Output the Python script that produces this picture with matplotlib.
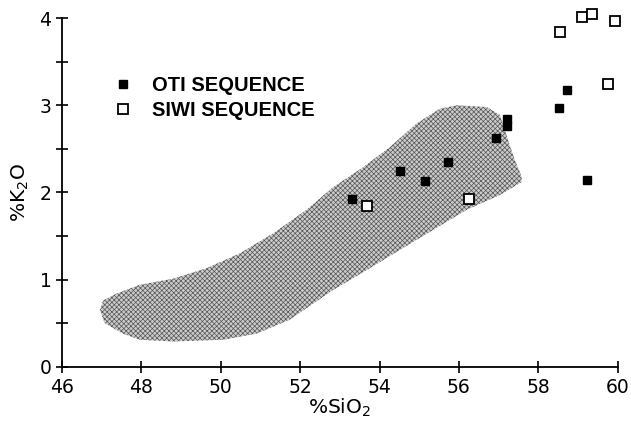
import matplotlib
matplotlib.use('Agg')
import matplotlib.pyplot as plt
from matplotlib.patches import Polygon
import numpy as np

# OTI sequence (filled squares)
oti_sio2 = [53.30, 54.51, 55.14, 55.73, 56.94, 57.21, 57.21, 58.51, 58.73, 59.23]
oti_k2o = [1.93, 2.25, 2.13, 2.35, 2.63, 2.84, 2.76, 2.97, 3.17, 2.14]

# SIWI sequence (open squares)
siwi_sio2 = [53.68, 56.25, 58.54, 59.11, 59.34, 59.94, 59.75]
siwi_k2o = [1.85, 1.93, 3.84, 4.01, 4.05, 3.97, 3.25]

# outline of the shaded field
field_x = [46.96, 47.04, 47.38, 47.96, 48.80, 49.64, 50.48, 51.32, 52.16, 52.83,
           53.59, 54.26, 54.93, 55.52, 55.94, 56.70, 57.03, 57.16, 57.28, 57.41,
           57.58, 57.58, 57.03, 56.19, 55.35, 54.51, 53.68, 52.83, 52.25, 51.74,
           50.90, 50.06, 48.80, 47.96, 47.54, 47.08]
field_y = [0.65, 0.76, 0.84, 0.94, 1.01, 1.13, 1.30, 1.53, 1.80, 2.06,
           2.29, 2.52, 2.79, 2.96, 3.00, 2.98, 2.89, 2.71, 2.54, 2.37,
           2.18, 2.12, 1.97, 1.80, 1.57, 1.34, 1.11, 0.88, 0.70, 0.54,
           0.38, 0.31, 0.29, 0.31, 0.38, 0.50]

plt.rcParams['hatch.linewidth'] = 0.5

fig = plt.figure(figsize=(6.31, 4.32), dpi=100)
ax = fig.add_axes([0.098, 0.151, 0.881, 0.807])

# edge colour drives the hatch colour; zero width hides the outline
field = Polygon(np.column_stack([field_x, field_y]), closed=True,
                facecolor='#cccccc', edgecolor='#555555', linewidth=0,
                hatch='xxxxxxx', zorder=1)
ax.add_patch(field)

ax.plot(oti_sio2, oti_k2o, 's', color='black', markersize=6, label='OTI SEQUENCE',
        zorder=3, clip_on=False)
ax.plot(siwi_sio2, siwi_k2o, 's', markerfacecolor='white', markeredgecolor='black',
        markeredgewidth=1.3, markersize=7, label='SIWI SEQUENCE', zorder=3, clip_on=False)

ax.set_xlim(46, 60)
ax.set_ylim(0, 4)
ax.set_xticks(np.arange(46, 61, 2))
ax.set_yticks([0, 1, 2, 3, 4])
ax.set_yticks([0.5, 1.5, 2.5, 3.5], minor=True)
ax.tick_params(which='both', direction='inout', length=8, width=1.2, labelsize=13.5)
ax.tick_params(axis='x', pad=4)

for s in ['top', 'right']:
    ax.spines[s].set_visible(False)
ax.spines['left'].set_linewidth(1.3)
ax.spines['bottom'].set_linewidth(1.3)

ax.set_xlabel('%SiO$_2$', fontsize=14.5, labelpad=0)
ax.set_ylabel('%K$_2$O', fontsize=14.5, labelpad=6)

leg = ax.legend(loc='upper left', bbox_to_anchor=(0.05, 0.885), frameon=False,
                handletextpad=0.7, labelspacing=0.3, handlelength=1.5,
                prop={'family': 'Liberation Sans', 'weight': 'bold', 'size': 14.5})

fig.savefig('out.png', dpi=100)
